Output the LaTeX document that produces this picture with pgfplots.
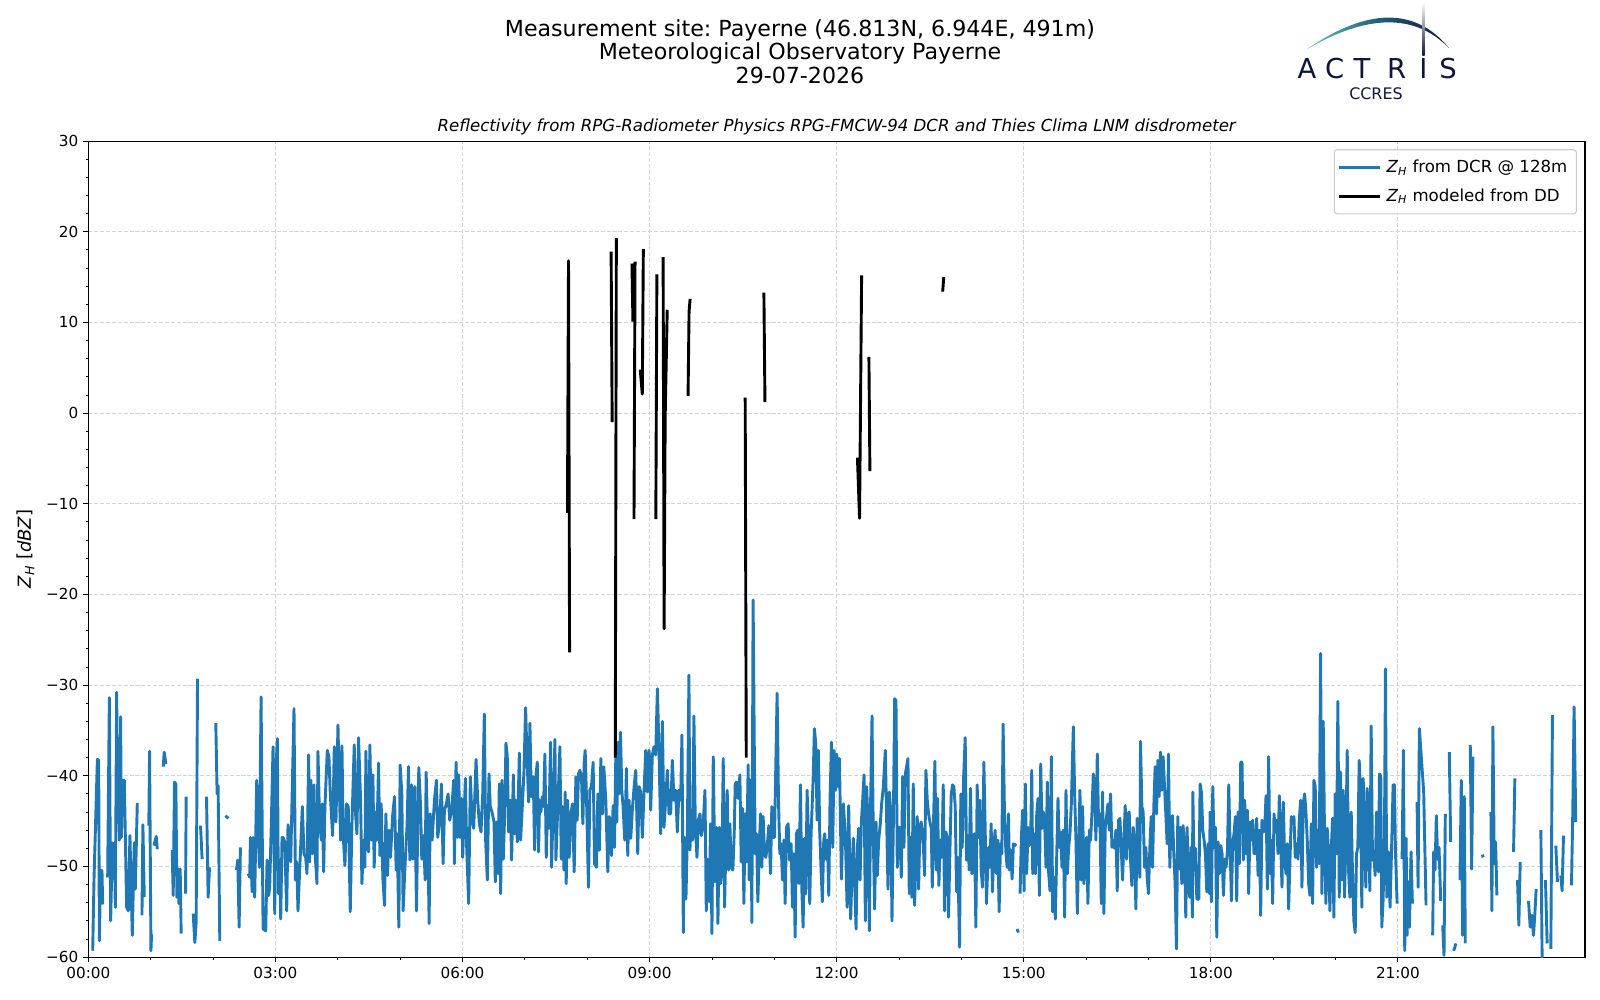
\documentclass[border=0pt]{standalone}
\usepackage{fontspec}
\setmainfont{DejaVu Sans}
\usepackage{pgfplots}
\pgfplotsset{compat=1.18}
\definecolor{mplblue}{HTML}{1F77B4}
\definecolor{logonavy}{HTML}{11153A}
\definecolor{logoteal}{HTML}{66C2BE}
\definecolor{logomid}{HTML}{23607A}
\newcommand{\ZH}{\textit{Z}\textsubscript{\textit{H}}}
\frenchspacing
\begin{document}
\begin{tikzpicture}
\useasboundingbox (0,0) rectangle (1152bp,720bp);
% titles
\node[anchor=base, font=\fontsize{16}{19}\selectfont] at (576bp,693.6bp) {Measurement site: Payerne (46.813N, 6.944E, 491m)};
\node[anchor=base, font=\fontsize{16}{19}\selectfont] at (576bp,676.8bp) {Meteorological Observatory Payerne};
\node[anchor=base, font=\fontsize{16}{19}\selectfont] at (576bp,660bp) {29-07-2026};
\node[anchor=base, font=\fontsize{12}{15}\selectfont\itshape] at (602.4bp,625.2bp) {Reflectivity from RPG-Radiometer Physics RPG-FMCW-94 DCR and Thies Clima LNM disdrometer};
\node[rotate=90, anchor=center, font=\fontsize{13}{16}\selectfont] at (18.5bp,324.7bp) {\ZH{} [\textit{dBZ}]};
% logo
\shade[left color=logoteal, right color=logonavy, middle color=logomid]
  (940.8bp,684.5bp) .. controls (985bp,714.8bp) and (1019bp,714.8bp) .. (1043.3bp,685.4bp)
  .. controls (1019bp,710.2bp) and (985bp,710.2bp) .. cycle;
\shade[top color=white, bottom color=logonavy] (1024.1bp,680.2bp) rectangle (1025.7bp,718.6bp);
\foreach \l/\x in {A/941.1,C/960.9,T/980.7,R/1005.5,I/1024.9,S/1042.6}
  \node[anchor=base, inner sep=0pt, text=logonavy, font=\fontsize{19.8}{22}\selectfont] at (\x bp,663.6bp) {\l};
\node[anchor=base, inner sep=0pt, text=logonavy, font=\fontsize{11.5}{13}\selectfont] at (990.7bp,648.7bp) {CCRES};
\begin{axis}[
  at={(63.6bp,30.9bp)}, anchor=south west,
  scale only axis, width=1077.6bp, height=587.5bp,
  xmin=0, xmax=24, ymin=-60, ymax=30,
  xtick={0,3,6,9,12,15,18,21},
  xticklabels={00:00,03:00,06:00,09:00,12:00,15:00,18:00,21:00},
  minor x tick num=2,
  ytick={-60,-50,-40,-30,-20,-10,0,10,20,30},
  yticklabels={−60,−50,−40,−30,−20,−10,0,10,20,30},
  minor y tick num=4,
  tick align=outside, tick pos=left,
  major tick length=3.5bp, minor tick length=2bp,
  every tick/.style={black, line width=0.8bp},
  minor tick style={line width=0.6bp},
  grid=major,
  major grid style={dash pattern=on 2.96bp off 1.28bp, line width=0.8bp, color=black!17},
  axis line style={line width=0.8bp},
  ticklabel style={font=\fontsize{11}{13}\selectfont},
  yticklabel style={anchor=east, inner sep=0pt, xshift=-3.5bp},
  xticklabel style={anchor=north, inner sep=0pt, yshift=-3.5bp},
  unbounded coords=jump,
  legend style={at={(1,1)}, anchor=north east, xshift=-5.8bp, yshift=-5.8bp,
    draw=black!20, line width=0.8bp, rounded corners=2bp, fill=white, fill opacity=0.8, text opacity=1,
    font=\fontsize{12}{14}\selectfont, inner xsep=2.5bp, inner ysep=7.5bp, row sep=10bp,
    nodes={inner xsep=4bp, inner ysep=0pt}},
  legend cell align=left,
  legend image code/.code={\draw[#1] (0bp,0bp) -- (29bp,0bp);},
]
\addplot[mplblue, line width=2.1pt, line join=round] coordinates {
(0.070,-59.3)(0.091,-51.4)(0.145,-38.2)(0.166,-38.3)(0.177,-58.2)(0.198,-50.4)(0.219,-50.5)(0.230,-54.2)(0.260,nan)
(0.310,-51.2)(0.337,-31.4)(0.358,-56.0)(0.385,-47.4)(0.401,-51.2)(0.417,-47.4)(0.433,-54.5)(0.454,-30.8)(0.470,-43.1)(0.486,-37.2)(0.497,-47.1)(0.518,-33.5)(0.529,-46.8)(0.550,-40.5)(0.577,-40.5)(0.614,-54.5)(0.641,-54.9)(0.667,-46.6)(0.705,-57.6)(0.737,-47.4)(0.753,-52.5)(0.785,-43.0)(0.820,nan)
(0.860,-55.4)(0.875,-45.4)(0.897,-53.4)(0.930,nan)
(0.970,-45.5)(0.982,-37.3)(1.004,-59.3)(1.014,-57.5)(1.030,nan)
(1.052,-47.7)(1.089,-46.7)(1.105,-48.1)(1.150,nan)
(1.201,-39.0)(1.217,-37.4)(1.244,-38.7)(1.300,nan)
(1.345,-48.2)(1.361,-53.2)(1.382,-40.7)(1.404,-40.9)(1.420,-53.4)(1.446,-50.3)(1.452,-54.1)(1.473,-50.3)(1.489,-57.4)(1.520,nan)
(1.559,-53.0)(1.569,-42.3)(1.620,nan)
(1.681,-55.2)(1.708,-58.4)(1.729,-56.2)(1.751,-29.3)(1.770,nan)
(1.799,-45.5)(1.825,-49.2)(1.860,nan)
(1.895,-42.3)(1.921,-53.4)(1.943,-50.1)(1.990,nan)
(2.044,-34.2)(2.065,-42.0)(2.081,-41.1)(2.108,-58.2)(2.150,nan)
(2.199,-44.4)(2.247,-44.7)(2.300,nan)
(2.375,-50.4)(2.396,-49.3)(2.418,-56.7)(2.439,-47.9)(2.500,nan)
(2.562,-50.8)(2.588,-51.2)(2.599,-46.8)(2.626,-52.8)(2.642,-46.8)(2.668,-53.4)(2.700,-40.5)(2.743,-50.1)(2.770,-31.3)(2.802,-56.9)(2.845,-57.1)(2.866,-49.3)(2.892,-53.2)(2.908,-52.3)
(2.935,-45.1)(2.962,-36.8)(2.989,-55.2)(3.005,-39.8)(3.031,-35.9)(3.047,-53.0)(3.069,-49.3)(3.085,-55.8)(3.106,-46.8)(3.122,-46.8)(3.149,-47.3)(3.181,-54.9)(3.202,-45.4)(3.245,-49.5)(3.298,-32.6)(3.320,-51.5)(3.341,-49.5)(3.362,-54.9)(3.389,-50.4)(3.432,-43.4)(3.458,-48.6)(3.485,-49.0)(3.506,-50.8)(3.533,-37.7)(3.549,-49.5)(3.570,-40.5)(3.592,-48.6)(3.618,-41.0)(3.640,-49.0)(3.666,-51.9)(3.682,-37.3)(3.709,-45.1)(3.736,-47.1)(3.752,-43.1)(3.773,-50.6)(3.794,-43.4)(3.832,-37.2)(3.858,-37.9)(3.880,-42.0)(3.917,-46.6)(3.944,-36.8)(3.971,-45.1)
(4.003,-34.4)(4.029,-42.3)(4.045,-47.1)(4.067,-36.7)(4.088,-46.8)(4.115,-49.9)(4.141,-43.1)(4.168,-43.4)(4.200,-55.0)(4.227,-45.3)(4.264,-36.6)(4.285,-44.2)(4.307,-46.4)(4.333,-35.8)(4.365,-42.5)(4.387,-51.9)(4.413,-47.1)(4.435,-50.1)(4.451,-37.3)(4.472,-45.7)(4.493,-48.4)(4.515,-36.6)(4.541,-47.1)(4.563,-39.9)(4.584,-50.1)(4.605,-44.0)(4.627,-47.1)(4.654,-38.6)(4.675,-48.8)(4.696,-43.1)(4.723,-51.3)(4.750,-54.3)(4.771,-44.2)(4.798,-51.0)(4.819,-46.0)(4.846,-49.0)(4.878,-44.5)(4.910,-42.3)(4.936,-50.4)(4.952,-46.4)(4.979,-56.7)
(5.000,-38.8)(5.027,-42.0)(5.048,-54.9)(5.075,-50.4)(5.112,-45.3)(5.134,-39.0)(5.155,-49.3)(5.182,-41.0)(5.208,-49.2)(5.235,-41.2)(5.262,-54.9)(5.283,-45.3)(5.299,-39.1)(5.326,-43.1)(5.347,-49.2)(5.374,-46.6)(5.401,-51.5)(5.417,-39.6)(5.443,-46.6)(5.465,-56.3)(5.481,-44.2)(5.513,-47.1)(5.550,-42.7)(5.582,-40.5)(5.603,-46.8)(5.635,-44.9)(5.662,-40.9)(5.689,-49.7)(5.710,-43.8)(5.742,-43.1)(5.769,-42.0)(5.795,-44.9)(5.827,-43.8)(5.859,-40.5)
(5.870,-49.7)(5.897,-38.5)(5.923,-46.8)(5.939,-39.9)(5.961,-46.8)(5.982,-42.5)(6.003,-49.0)(6.019,-45.7)(6.046,-40.3)(6.067,-47.9)(6.099,-54.1)(6.126,-40.1)(6.153,-44.9)(6.180,-45.8)(6.217,-38.2)(6.244,-42.7)(6.270,-45.3)(6.297,-46.2)(6.324,-42.0)(6.350,-33.2)(6.372,-47.3)(6.398,-51.5)(6.425,-39.8)(6.446,-43.4)(6.473,-44.0)(6.505,-45.1)(6.526,-51.7)(6.548,-45.1)(6.569,-50.8)(6.590,-40.9)(6.612,-53.0)(6.633,-40.5)(6.654,-49.2)(6.676,-44.2)(6.697,-36.4)(6.718,-37.9)(6.740,-46.2)(6.766,-42.7)(6.788,-49.3)(6.815,-39.9)(6.836,-46.4)(6.857,-42.7)(6.879,-47.3)(6.911,-37.5)(6.932,-47.1)(6.964,-42.7)(6.985,-39.6)
(7.012,-32.5)(7.033,-37.6)(7.060,-42.9)(7.081,-34.2)(7.103,-42.3)(7.135,-40.1)(7.156,-48.2)(7.177,-40.1)(7.199,-38.5)(7.220,-48.4)(7.236,-42.7)(7.257,-44.0)(7.279,-42.3)(7.300,-43.4)(7.321,-37.6)(7.343,-49.0)(7.364,-43.3)(7.385,-45.8)(7.412,-36.3)(7.428,-50.1)(7.455,-43.3)(7.482,-36.0)(7.498,-49.3)(7.524,-44.2)(7.562,-36.8)(7.583,-49.2)(7.604,-43.4)(7.626,-50.4)(7.647,-41.8)(7.663,-51.9)(7.684,-42.7)(7.711,-49.0)(7.738,-44.2)(7.764,-43.1)(7.791,-50.6)(7.818,-40.1)(7.839,-44.9)(7.860,-39.8)(7.882,-39.4)(7.908,-40.1)(7.930,-45.3)(7.951,-38.5)(7.967,-37.2)(7.988,-42.3)
(8.020,-52.3)(8.042,-41.6)(8.068,-41.2)(8.095,-38.5)(8.117,-49.7)(8.149,-50.1)(8.170,-42.0)(8.197,-48.2)(8.218,-38.1)(8.245,-44.2)(8.266,-39.0)(8.298,-42.7)(8.330,-50.6)(8.351,-44.5)(8.373,-44.9)(8.389,-48.8)(8.415,-43.3)(8.437,-47.9)(8.458,-37.9)(8.474,-45.1)(8.495,-36.3)(8.511,-42.0)(8.533,-35.2)(8.554,-41.6)(8.575,-43.4)(8.602,-47.1)(8.629,-39.2)(8.650,-48.8)(8.671,-42.7)(8.698,-46.9)(8.725,-43.6)(8.752,-41.2)(8.778,-39.4)(8.810,-48.6)(8.832,-41.2)
(8.858,-41.8)(8.884,-46.8)(8.911,-41.8)(8.938,-37.2)(8.964,-41.8)(8.991,-37.2)(9.018,-43.8)(9.044,-37.7)(9.071,-36.8)(9.098,-37.7)(9.125,-30.4)(9.151,-37.2)(9.178,-46.4)(9.205,-34.0)(9.231,-45.7)(9.258,-42.7)(9.285,-39.4)(9.311,-44.2)(9.338,-44.2)(9.365,-38.3)(9.391,-42.7)(9.418,-41.6)(9.445,-46.2)(9.471,-41.6)(9.498,-42.7)(9.519,-35.5)(9.541,-57.3)(9.562,-46.8)(9.583,-53.6)(9.605,-46.8)(9.631,-28.9)(9.647,-48.2)(9.669,-44.7)(9.690,-47.1)(9.711,-33.4)(9.733,-45.5)(9.760,-49.0)(9.781,-44.9)(9.808,-44.2)(9.829,-46.6)(9.861,-45.1)(9.888,-41.6)(9.909,-54.9)(9.930,-49.2)(9.957,-53.9)(9.978,-45.3)
(10.000,-57.4)(10.021,-37.9)(10.048,-51.7)(10.074,-45.7)(10.096,-56.3)(10.117,-45.7)(10.138,-51.9)(10.160,-50.1)(10.181,-38.1)(10.202,-54.5)(10.224,-47.7)(10.245,-41.6)(10.266,-50.4)(10.288,-45.3)(10.309,-50.1)(10.336,-50.4)(10.357,-46.4)(10.373,-40.9)(10.394,-40.7)(10.421,-42.5)(10.448,-39.9)(10.469,-49.5)(10.491,-43.6)(10.512,-54.1)(10.533,-44.2)(10.555,-49.5)(10.581,-38.8)(10.597,-51.5)(10.613,-40.5)(10.629,-46.0)(10.640,-56.2)(10.660,-20.6)(10.693,-48.6)(10.715,-46.4)(10.736,-53.9)(10.757,-48.6)(10.779,-44.2)(10.800,-50.1)(10.821,-44.5)(10.843,-48.6)(10.864,-49.0)(10.885,-47.9)(10.912,-45.5)(10.939,-50.8)(10.960,-43.4)(10.981,-46.8)
(11.003,-46.8)(11.045,-30.9)(11.067,-42.7)(11.088,-48.6)(11.109,-47.5)(11.131,-51.5)(11.152,-47.1)(11.174,-54.1)(11.195,-45.7)(11.222,-45.3)(11.243,-49.3)(11.270,-47.5)(11.291,-54.5)(11.312,-48.6)(11.334,-57.8)(11.355,-46.4)(11.376,-46.0)(11.398,-51.9)(11.419,-41.0)(11.440,-52.3)(11.462,-56.7)(11.483,-46.9)(11.504,-53.0)(11.526,-41.6)(11.547,-46.8)(11.568,-54.1)(11.590,-46.4)(11.622,-40.5)(11.643,-34.8)(11.664,-36.4)(11.686,-44.9)(11.707,-37.2)(11.728,-46.2)(11.750,-50.4)(11.771,-53.9)(11.793,-47.1)
(11.809,-46.4)(11.830,-49.2)(11.852,-47.1)(11.873,-53.2)(11.894,-42.5)(11.916,-36.3)(11.937,-47.9)(11.958,-37.2)(11.980,-41.6)(12.001,-37.6)(12.022,-41.2)(12.044,-38.1)(12.076,-51.4)(12.108,-43.1)(12.140,-46.8)(12.167,-54.5)(12.193,-43.3)(12.225,-55.8)(12.247,-50.1)(12.268,-46.9)(12.289,-51.9)(12.311,-56.9)(12.332,-47.9)(12.353,-45.8)(12.375,-51.5)(12.396,-45.1)(12.417,-42.7)(12.439,-39.9)(12.460,-56.0)(12.481,-41.2)(12.503,-45.3)(12.524,-57.1)(12.545,-42.7)(12.567,-33.4)(12.588,-47.1)(12.609,-54.7)(12.631,-45.1)(12.652,-51.0)(12.673,-47.1)(12.700,-45.3)(12.721,-43.1)(12.748,-41.2)(12.780,-37.2)(12.802,-45.1)(12.823,-52.5)(12.844,-41.8)(12.866,-43.8)(12.887,-56.0)(12.908,-45.7)(12.930,-31.5)(12.951,-31.7)(12.972,-50.1)(12.994,-45.7)
(13.015,-45.7)(13.036,-51.2)(13.058,-40.1)(13.079,-47.9)(13.100,-39.8)(13.122,-39.0)(13.143,-38.1)(13.164,-53.0)(13.186,-46.8)(13.207,-53.4)(13.228,-40.9)(13.250,-54.3)(13.271,-49.0)(13.292,-44.5)(13.314,-52.5)(13.335,-45.5)(13.356,-45.1)(13.389,-47.5)(13.410,-51.0)(13.431,-39.4)(13.453,-42.7)(13.474,-44.2)(13.495,-45.1)(13.517,-45.8)(13.533,-52.3)(13.554,-44.9)(13.575,-38.4)(13.597,-50.4)(13.618,-42.5)(13.639,-52.1)(13.661,-47.1)(13.687,-49.0)(13.709,-41.0)(13.730,-54.9)(13.751,-46.2)(13.773,-46.8)(13.794,-55.6)(13.815,-48.6)(13.837,-42.0)(13.858,-41.0)(13.879,-41.2)(13.901,-43.4)(13.922,-52.8)(13.943,-49.0)(13.970,-58.9)(13.991,-42.0)
(14.013,-47.9)(14.034,-40.5)(14.061,-35.8)(14.082,-49.3)(14.104,-46.6)(14.125,-50.4)(14.146,-41.4)(14.168,-50.8)(14.189,-46.8)(14.210,-46.4)(14.232,-56.7)(14.253,-41.0)(14.274,-46.8)(14.296,-42.7)(14.317,-50.4)(14.338,-52.3)(14.360,-38.5)(14.381,-45.7)(14.402,-54.1)(14.434,-47.9)(14.456,-50.1)(14.477,-45.3)(14.498,-52.8)(14.520,-47.9)(14.541,-46.0)(14.562,-50.8)(14.584,-47.1)(14.605,-55.0)(14.626,-47.5)(14.648,-48.6)(14.669,-34.3)(14.691,-44.2)(14.712,-48.2)(14.733,-50.1)(14.755,-44.2)
(14.770,-50.4)(14.791,-48.2)(14.813,-51.4)(14.834,-47.5)(14.855,-47.7)(14.877,-47.5)(14.885,nan)(14.893,-56.9)(14.914,-57.3)(14.928,nan)
(14.941,-53.0)(14.962,-46.8)(14.983,-43.8)(15.005,-52.7)(15.026,-40.9)(15.047,-50.8)(15.069,-45.7)(15.090,-47.7)(15.112,-46.4)(15.128,-39.4)(15.144,-50.8)(15.165,-46.4)(15.186,-50.8)(15.208,-44.2)(15.229,-42.5)(15.250,-53.2)(15.272,-38.7)(15.293,-45.8)(15.314,-44.0)(15.336,-45.3)(15.357,-50.1)(15.378,-40.7)(15.400,-50.8)(15.421,-52.7)(15.442,-37.9)(15.464,-55.0)(15.485,-51.2)(15.506,-55.8)(15.528,-49.0)(15.549,-42.5)(15.570,-47.9)(15.592,-46.2)(15.613,-50.1)(15.634,-46.0)(15.656,-55.6)(15.677,-41.6)(15.699,-50.8)(15.720,-47.9)(15.741,-46.4)(15.763,-43.1)(15.795,-34.6)(15.816,-42.0)(15.837,-47.1)(15.859,-55.2)(15.880,-48.6)(15.901,-41.6)(15.923,-51.5)(15.944,-43.4)(15.965,-51.9)(15.987,-47.9)
(16.008,-46.8)(16.029,-54.1)(16.051,-46.0)(16.072,-47.1)(16.093,-44.2)(16.115,-39.8)(16.136,-41.6)(16.157,-47.1)(16.179,-37.6)(16.200,-45.5)(16.221,-44.2)(16.243,-54.1)(16.264,-41.8)(16.285,-55.2)(16.307,-45.7)(16.328,-44.5)(16.350,-43.1)(16.371,-46.0)(16.392,-42.0)(16.414,-47.9)(16.435,-47.1)(16.456,-48.0)(16.477,-46.0)(16.499,-52.7)(16.520,-44.9)(16.542,-44.7)(16.563,-47.9)(16.584,-51.5)(16.606,-47.1)(16.627,-43.3)(16.648,-49.2)(16.670,-44.2)(16.691,-44.0)(16.712,-49.3)(16.734,-52.1)(16.755,-45.7)(16.776,-47.3)(16.798,-54.7)(16.819,-44.7)(16.840,-48.2)(16.862,-51.2)(16.872,-36.2)(16.894,-43.4)(16.915,-44.0)(16.936,-50.1)(16.958,-47.9)(16.979,-51.2)
(17.000,-53.0)(17.022,-47.9)(17.043,-44.5)(17.065,-50.1)(17.086,-43.3)(17.107,-39.0)(17.129,-44.2)(17.150,-38.3)(17.171,-42.3)(17.193,-37.4)(17.214,-41.6)(17.235,-37.9)(17.257,-41.2)(17.278,-44.2)(17.299,-47.5)(17.321,-37.6)(17.342,-50.1)(17.363,-44.9)(17.385,-44.4)(17.406,-48.6)(17.427,-51.9)(17.449,-59.1)(17.470,-44.5)(17.491,-50.3)(17.513,-45.7)(17.534,-51.9)(17.555,-45.5)(17.577,-47.7)(17.598,-55.6)(17.619,-45.7)(17.641,-51.9)(17.662,-53.4)(17.683,-47.9)(17.705,-55.6)
(17.711,-41.8)(17.732,-50.4)(17.753,-48.0)(17.775,-53.6)(17.807,-53.6)(17.828,-40.9)(17.849,-41.8)(17.871,-46.0)(17.892,-47.1)(17.913,-48.6)(17.935,-52.8)(17.956,-47.5)(17.977,-53.0)(17.988,-44.0)
(18.010,-53.9)(18.031,-41.2)(18.052,-47.9)(18.074,-45.7)(18.095,-57.8)(18.116,-47.3)(18.138,-50.8)(18.159,-47.7)(18.180,-48.6)(18.202,-53.2)(18.223,-49.2)(18.244,-50.1)(18.266,-48.4)(18.287,-41.0)(18.308,-47.5)(18.330,-53.8)(18.351,-47.3)(18.372,-46.4)(18.394,-44.5)(18.415,-53.8)(18.436,-44.0)(18.458,-49.7)(18.479,-38.5)(18.500,-38.5)(18.522,-49.3)(18.543,-42.7)(18.564,-48.6)(18.586,-43.8)(18.607,-53.0)(18.628,-45.1)(18.650,-47.1)(18.671,-44.9)(18.692,-48.6)(18.714,-48.6)(18.735,-44.7)(18.757,-51.0)(18.778,-46.0)(18.799,-55.4)(18.820,-44.9)(18.842,-46.2)(18.863,-46.0)(18.885,-42.2)(18.906,-52.5)(18.927,-37.9)(18.949,-50.8)(18.970,-47.1)(18.991,-54.1)
(19.013,-44.2)(19.034,-46.2)(19.055,-44.9)(19.077,-48.6)(19.098,-42.2)(19.119,-47.1)(19.141,-52.3)(19.162,-42.9)(19.183,-49.0)(19.205,-50.8)(19.226,-47.5)(19.247,-54.7)(19.269,-49.3)(19.290,-44.5)(19.312,-45.1)(19.333,-44.5)(19.354,-49.0)(19.376,-47.5)(19.397,-49.2)(19.418,-44.9)(19.440,-42.7)(19.461,-52.3)(19.482,-43.1)(19.504,-42.0)(19.525,-44.0)(19.546,-47.1)(19.568,-51.9)(19.589,-53.2)(19.610,-45.3)(19.632,-54.1)(19.653,-40.5)(19.674,-41.2)(19.696,-50.1)(19.717,-46.0)(19.738,-49.7)(19.760,-26.5)(19.781,-53.0)(19.802,-34.0)(19.824,-47.1)(19.845,-54.1)(19.866,-45.8)(19.888,-48.6)(19.909,-54.9)(19.930,-48.2)(19.952,-44.7)(19.973,-55.6)(19.994,-42.0)
(20.016,-48.6)(20.037,-31.8)(20.059,-53.4)(20.080,-39.6)(20.101,-51.5)(20.123,-41.6)(20.144,-53.4)(20.165,-47.1)(20.187,-37.2)(20.208,-50.4)(20.229,-53.4)(20.251,-44.0)(20.272,-50.8)(20.293,-56.0)(20.315,-57.3)(20.336,-48.6)(20.357,-47.9)(20.379,-38.3)(20.400,-42.0)(20.421,-54.5)(20.443,-40.3)(20.464,-45.7)(20.485,-52.3)(20.507,-41.4)(20.528,-45.8)(20.550,-52.7)(20.571,-34.5)(20.592,-49.3)(20.614,-48.6)(20.635,-51.0)(20.656,-44.0)(20.678,-49.3)
(20.688,-50.6)(20.704,-39.8)(20.725,-40.0)(20.741,-56.7)(20.762,-53.8)(20.784,-46.9)(20.800,-28.2)(20.821,-53.4)(20.848,-48.4)(20.874,-54.5)(20.901,-47.3)(20.923,-41.0)(20.944,-41.0)(20.960,-48.2)(20.987,-54.1)(21.030,nan)
(21.067,-49.2)(21.088,-37.2)(21.109,-59.3)(21.131,-46.9)(21.147,-57.6)(21.168,-51.7)(21.184,-56.7)(21.211,-48.4)(21.232,-54.1)(21.270,nan)
(21.307,-42.9)(21.323,-52.3)(21.344,-34.8)(21.413,-41.8)(21.451,-54.3)(21.500,nan)
(21.557,-57.6)(21.573,-48.4)(21.595,-50.4)(21.616,-44.4)(21.637,-49.2)(21.659,-47.9)(21.686,-53.8)(21.700,nan)
(21.718,-56.5)(21.739,-59.8)(21.760,-44.2)(21.790,nan)
(21.824,-37.4)(21.846,-47.3)(21.870,nan)
(21.894,-59.3)(21.931,-58.5)(21.960,nan)
(21.995,-51.5)(22.016,-40.5)(22.038,-57.6)(22.064,-42.3)(22.080,-58.5)(22.120,nan)
(22.160,-36.6)(22.182,-50.3)(22.203,-37.9)(22.260,nan)
(22.337,-48.9)(22.385,-48.8)(22.430,nan)
(22.491,-44.0)(22.507,-54.9)(22.523,-34.6)(22.545,-49.7)(22.566,-47.3)(22.587,-53.2)(22.700,nan)
(22.854,-48.4)(22.875,-40.3)(22.900,nan)
(22.918,-51.5)(22.939,-56.5)(22.961,-49.5)(23.030,nan)
(23.094,-53.8)(23.121,-56.7)(23.148,-55.4)(23.174,-57.6)(23.196,-55.2)(23.217,-52.5)(23.260,nan)
(23.292,-46.0)(23.313,-60.5)(23.340,nan)
(23.366,-51.5)(23.393,-58.5)(23.420,nan)
(23.452,-59.1)(23.478,-33.3)(23.505,nan)
(23.532,-47.7)(23.558,-51.7)(23.585,nan)
(23.612,-51.0)(23.633,-52.7)(23.655,-46.6)(23.720,nan)
(23.783,-52.1)(23.804,-44.0)(23.825,-32.4)(23.852,-45.1)
};
\addlegendentry{\ZH{} from DCR @ 128m}
\addplot[black, line width=2.1pt, line join=round] coordinates {
(7.683,-11.0)(7.700,16.8)(7.717,-26.4)(7.750,nan)
(8.383,17.8)(8.400,-1.0)(8.425,nan)
(8.450,-38.0)(8.467,19.3)(8.500,nan)
(8.717,16.5)(8.733,10.1)(8.742,nan)
(8.750,-11.7)(8.767,16.7)(8.800,nan)
(8.850,4.8)(8.883,2.1)(8.900,18.1)(8.950,nan)
(9.100,-11.7)(9.117,15.3)(9.150,nan)
(9.217,17.2)(9.233,-23.8)(9.250,-0.4)(9.283,11.4)(9.350,nan)
(9.617,1.9)(9.633,11.2)(9.650,12.6)(9.700,nan)
(10.533,1.7)(10.550,-38.0)(10.600,nan)
(10.833,13.3)(10.850,1.2)(10.900,nan)
(12.333,-4.9)(12.367,-11.6)(12.400,15.2)(12.450,nan)
(12.517,6.2)(12.533,-6.4)(12.600,nan)
(13.700,13.4)(13.717,15.0)
};
\addlegendentry{\ZH{} modeled from DD}
\end{axis}
\end{tikzpicture}
\end{document}
